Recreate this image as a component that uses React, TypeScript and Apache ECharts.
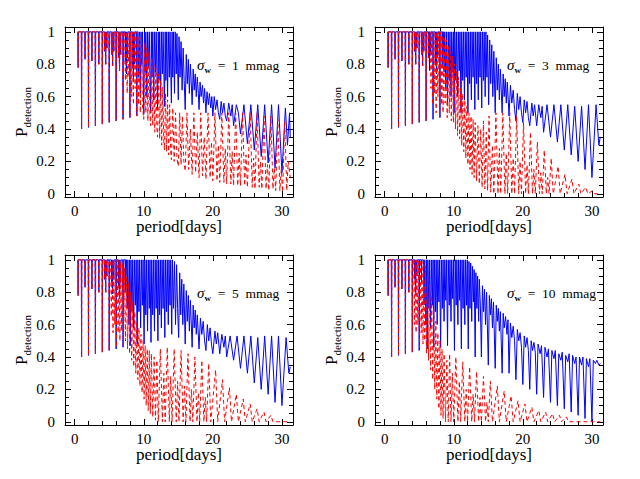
import React, { useEffect, useRef } from 'react';
import * as echarts from 'echarts';

const FONT = "'Liberation Serif', 'Times New Roman', serif";
const X_MIN = -1.4, X_MAX = 31.6, Y_MIN = -0.02, Y_MAX = 1.03;
const xMajor = [0, 10, 20, 30];
const xMinor = [2, 4, 6, 8, 12, 14, 16, 18, 22, 24, 26, 28];
const yMajor = [0, 0.2, 0.4, 0.6, 0.8, 1];
const yMinor = [0.05, 0.1, 0.15, 0.25, 0.3, 0.35, 0.45, 0.5, 0.55, 0.65, 0.7, 0.75, 0.85, 0.9, 0.95];
const sigmaLabels = ['1', '3', '5', '10'];

// short-period aliasing dips: [period, lowest P]
const lowPeriodSpikes: [number, number][] = [
  [0.5, 0.78], [1, 0.4], [1.5, 0.83], [2, 0.41], [2.5, 0.82], [3, 0.42], [3.5, 0.8], [4, 0.43],
  [4.33, 0.88], [4.5, 0.8], [4.67, 0.9], [5, 0.44], [5.33, 0.86], [5.5, 0.79], [5.67, 0.88], [6, 0.45],
  [6.33, 0.84], [6.5, 0.76], [6.67, 0.86], [7, 0.46], [7.33, 0.8], [7.5, 0.74], [7.67, 0.84], [8, 0.47],
  [8.33, 0.78], [8.5, 0.7], [8.67, 0.8], [9, 0.48],
];
const blueCut = [9.05, 8.4, 7.4, 5.5];
const redCut = [7.2, 6.5, 5.1, 4.1];

const blue1: [number, number][] = [
  [9.15,1],[9.25,0.72],[9.35,1],[9.5,0.62],[9.6,1],[9.7,0.8],[9.8,1],[10,0.49],[10.1,1],[10.2,0.75],[10.3,1],[10.45,0.6],[10.55,1],[10.7,0.78],[10.8,1],[11,0.5],[11.1,1],[11.2,0.72],[11.3,1],[11.45,0.58],[11.55,1],[11.7,0.75],[11.8,1],[12,0.52],[12.1,1],[12.2,0.7],[12.3,1],[12.45,0.6],[12.55,1],[12.7,0.74],[12.8,1],[13,0.54],[13.1,1],[13.2,0.7],[13.3,1],[13.45,0.6],[13.55,1],[13.7,0.72],[13.8,1],[14,0.56],[14.1,1],[14.2,0.72],[14.3,1],[14.45,0.62],[14.55,1],[14.7,0.74],[14.8,0.99],[15,0.58],[15.1,0.97],[15.25,0.72],[15.4,0.94],[15.55,0.64],[15.7,0.9],[15.85,0.7],[16,0.52],[16.15,0.86],[16.3,0.68],[16.45,0.83],[16.6,0.62],[16.75,0.8],[16.9,0.66],[17,0.55],[17.15,0.77],[17.3,0.64],[17.45,0.74],[17.6,0.6],[17.75,0.72],[17.9,0.62],[18,0.52],[18.15,0.69],[18.3,0.6],[18.5,0.67],[18.65,0.56],[18.8,0.65],[19,0.5],[19.15,0.63],[19.35,0.55],[19.5,0.62],[19.7,0.53],[19.85,0.6],[20,0.48],[20.2,0.6],[20.4,0.52],[20.6,0.58],[20.8,0.5],[21,0.46],[21.2,0.57],[21.4,0.5],[21.6,0.56],[21.8,0.48],[22,0.45],[22.3,0.56],[22.6,0.48],[22.8,0.55],[23,0.42],[23.4,0.55],[23.7,0.5],[24,0.37],[24.5,0.55],[25,0.31],[25.5,0.55],[26,0.27],[26.5,0.55],[27,0.23],[27.5,0.55],[28,0.19],[28.5,0.55],[29,0.16],[29.5,0.55],[30,0.13],[30.5,0.53],[30.8,0.3],[31.1,0.5],[31.2,0.35],
];
const red1: [number, number][] = [
  [7.25,1],[7.35,0.7],[7.45,1],[7.6,0.62],[7.7,1],[7.85,0.72],[7.95,1],[8,0.47],[8.1,1],[8.25,0.6],[8.35,1],[8.5,0.55],[8.6,1],[8.75,0.65],[8.85,1],[9,0.48],[9.1,1],[9.25,0.55],[9.35,0.98],[9.5,0.5],[9.65,0.96],[9.8,0.55],[10,0.46],[10.15,0.93],[10.3,0.5],[10.45,0.9],[10.6,0.45],[10.75,0.88],[10.9,0.48],[11,0.42],[11.15,0.84],[11.3,0.42],[11.45,0.8],[11.6,0.38],[11.75,0.78],[11.9,0.4],[12,0.35],[12.15,0.74],[12.3,0.34],[12.45,0.7],[12.6,0.3],[12.75,0.66],[12.9,0.32],[13,0.27],[13.15,0.62],[13.3,0.26],[13.45,0.58],[13.6,0.24],[13.75,0.55],[13.9,0.26],[14,0.21],[14.2,0.53],[14.4,0.2],[14.6,0.5],[14.8,0.22],[15,0.17],[15.2,0.5],[15.4,0.18],[15.6,0.48],[15.8,0.2],[16,0.14],[16.25,0.5],[16.5,0.15],[16.75,0.4],[17,0.12],[17.25,0.5],[17.5,0.13],[17.75,0.38],[18,0.1],[18.25,0.5],[18.5,0.11],[18.75,0.35],[19,0.09],[19.3,0.5],[19.6,0.1],[19.8,0.32],[20,0.08],[20.3,0.5],[20.6,0.08],[20.8,0.3],[21,0.07],[21.3,0.5],[21.6,0.07],[21.8,0.28],[22,0.06],[22.3,0.5],[22.6,0.06],[22.8,0.26],[23,0.05],[23.3,0.5],[23.6,0.05],[23.8,0.25],[24,0.05],[24.3,0.5],[24.6,0.05],[24.8,0.24],[25,0.04],[25.4,0.5],[25.7,0.04],[25.9,0.22],[26.1,0.03],[26.4,0.5],[26.7,0.04],[26.9,0.2],[27.1,0.03],[27.4,0.48],[27.7,0.03],[27.9,0.18],[28.1,0.02],[28.4,0.48],[28.7,0.03],[28.9,0.16],[29.1,0.02],[29.4,0.46],[29.7,0.02],[29.9,0.15],[30.1,0.01],[30.4,0.45],[30.7,0.02],[30.9,0.2],[31.2,0.1],
];

const blue2: [number, number][] = [
  [8.5,1],[8.6,0.75],[8.7,1],[8.85,0.65],[8.95,1],[9.1,0.55],[9.2,1],[9.35,0.7],[9.45,1],[9.6,0.6],[9.7,1],[9.85,0.75],[9.95,1],[10.05,0.5],[10.15,1],[10.3,0.7],[10.4,1],[10.55,0.6],[10.65,1],[10.8,0.76],[10.9,1],[11.05,0.5],[11.15,1],[11.3,0.7],[11.4,1],[11.55,0.58],[11.65,1],[11.8,0.72],[11.9,1],[12.05,0.5],[12.15,1],[12.3,0.68],[12.4,1],[12.55,0.58],[12.65,1],[12.8,0.72],[12.9,1],[13.05,0.52],[13.15,1],[13.3,0.68],[13.4,1],[13.55,0.58],[13.65,1],[13.8,0.72],[13.9,1],[14.05,0.53],[14.15,1],[14.3,0.7],[14.4,1],[14.55,0.6],[14.65,1],[14.8,0.72],[14.9,0.98],[15.05,0.55],[15.2,0.95],[15.35,0.68],[15.5,0.92],[15.65,0.6],[15.8,0.88],[16,0.5],[16.15,0.84],[16.3,0.64],[16.45,0.8],[16.6,0.58],[16.75,0.77],[17,0.5],[17.15,0.74],[17.3,0.6],[17.45,0.71],[17.6,0.56],[17.75,0.69],[18,0.48],[18.2,0.67],[18.4,0.56],[18.6,0.64],[18.8,0.52],[19,0.45],[19.2,0.62],[19.4,0.52],[19.6,0.6],[19.8,0.5],[20,0.44],[20.2,0.58],[20.4,0.5],[20.6,0.57],[20.8,0.47],[21,0.42],[21.3,0.56],[21.5,0.48],[21.7,0.55],[22,0.42],[22.3,0.55],[22.6,0.47],[22.8,0.54],[23,0.38],[23.5,0.55],[24,0.35],[24.5,0.55],[25,0.32],[25.5,0.55],[26,0.27],[26.5,0.55],[27,0.24],[27.5,0.54],[28,0.2],[28.5,0.54],[29,0.15],[29.5,0.55],[30,0.1],[30.6,0.55],[31,0.3],[31.2,0.35],
];
const red2: [number, number][] = [
  [6.6,1],[6.7,0.65],[6.8,1],[6.95,0.55],[7.05,1],[7.2,0.62],[7.3,1],[7.45,0.5],[7.55,1],[7.7,0.6],[7.8,1],[7.95,0.48],[8.05,1],[8.2,0.55],[8.3,0.98],[8.45,0.5],[8.6,0.97],[8.75,0.56],[8.9,0.95],[9.05,0.47],[9.2,0.92],[9.35,0.5],[9.5,0.88],[9.65,0.45],[9.8,0.85],[9.95,0.44],[10.1,0.8],[10.25,0.4],[10.4,0.76],[10.55,0.36],[10.7,0.72],[10.85,0.34],[11,0.65],[11.15,0.3],[11.3,0.62],[11.45,0.26],[11.6,0.58],[11.75,0.22],[11.9,0.54],[12.05,0.18],[12.2,0.5],[12.35,0.15],[12.5,0.48],[12.65,0.12],[12.8,0.46],[12.95,0.1],[13.1,0.44],[13.3,0.08],[13.5,0.42],[13.7,0.06],[13.9,0.4],[14.1,0.04],[14.3,0.45],[14.5,0.03],[14.7,0.38],[14.9,0.02],[15.1,0.48],[15.35,0.01],[15.6,0.3],[15.8,0],[16.1,0.5],[16.4,0],[16.6,0.28],[16.8,0],[17.1,0.5],[17.4,0],[17.6,0.25],[17.8,0],[18.1,0.5],[18.4,0],[18.6,0.22],[18.8,0],[19.1,0.48],[19.4,0],[19.6,0.2],[19.8,0],[20.1,0.44],[20.4,0],[20.6,0.18],[20.8,0],[21.1,0.38],[21.4,0],[21.6,0.15],[21.8,0],[22.1,0.32],[22.4,0],[22.6,0.13],[22.8,0],[23.1,0.27],[23.4,0],[23.6,0.1],[23.8,0],[24.1,0.22],[24.4,0],[25.1,0.17],[25.4,0],[26.1,0.12],[26.4,0],[27.1,0.09],[27.4,0],[28.1,0.06],[28.4,0],[29.1,0.04],[29.4,0],[30.1,0.02],[30.4,0],[31.2,0],
];

const blue3: [number, number][] = [
  [7.5,1],[7.6,0.7],[7.7,1],[7.85,0.6],[7.95,1],[8.05,0.47],[8.15,1],[8.3,0.68],[8.4,1],[8.55,0.58],[8.65,1],[8.8,0.72],[8.9,1],[9.05,0.48],[9.15,1],[9.3,0.68],[9.4,1],[9.55,0.58],[9.65,1],[9.8,0.72],[9.9,1],[10.05,0.48],[10.15,1],[10.3,0.66],[10.4,1],[10.55,0.56],[10.65,1],[10.8,0.7],[10.9,1],[11.05,0.49],[11.15,1],[11.3,0.66],[11.4,1],[11.55,0.56],[11.65,1],[11.8,0.7],[11.9,1],[12.05,0.5],[12.15,1],[12.3,0.66],[12.4,1],[12.55,0.58],[12.65,1],[12.8,0.7],[12.9,1],[13.05,0.52],[13.15,1],[13.3,0.68],[13.4,1],[13.55,0.6],[13.65,1],[13.8,0.72],[13.9,1],[14.05,0.54],[14.15,1],[14.3,0.7],[14.45,0.99],[14.6,0.6],[14.75,0.97],[14.9,0.7],[15.05,0.52],[15.2,0.92],[15.35,0.66],[15.5,0.88],[15.65,0.6],[15.8,0.85],[16,0.48],[16.15,0.81],[16.3,0.62],[16.45,0.78],[16.6,0.56],[16.75,0.75],[17,0.46],[17.15,0.72],[17.3,0.58],[17.45,0.69],[17.6,0.54],[17.75,0.66],[18,0.45],[18.2,0.64],[18.4,0.54],[18.6,0.62],[18.8,0.5],[19,0.44],[19.2,0.6],[19.4,0.5],[19.6,0.58],[19.8,0.48],[20,0.42],[20.3,0.56],[20.5,0.48],[20.7,0.55],[21,0.42],[21.3,0.54],[21.6,0.46],[21.8,0.53],[22,0.4],[22.5,0.53],[23,0.38],[23.5,0.53],[24,0.33],[24.5,0.53],[25,0.3],[25.5,0.53],[26,0.24],[26.5,0.52],[27,0.2],[27.5,0.53],[28,0.17],[28.5,0.53],[29,0.12],[29.5,0.53],[30,0.1],[30.6,0.52],[31,0.3],[31.2,0.34],
];
const red3: [number, number][] = [
  [5.2,1],[5.3,0.65],[5.4,1],[5.55,0.55],[5.65,1],[5.8,0.6],[5.9,1],[6.05,0.46],[6.15,1],[6.3,0.55],[6.4,1],[6.55,0.5],[6.65,0.99],[6.8,0.56],[6.9,0.98],[7.05,0.46],[7.2,0.95],[7.35,0.5],[7.5,0.9],[7.65,0.45],[7.8,0.86],[7.95,0.42],[8.1,0.8],[8.25,0.38],[8.4,0.74],[8.55,0.34],[8.7,0.68],[8.85,0.3],[9,0.62],[9.15,0.26],[9.3,0.58],[9.45,0.22],[9.6,0.54],[9.75,0.18],[9.9,0.5],[10.05,0.14],[10.2,0.47],[10.35,0.1],[10.5,0.45],[10.65,0.07],[10.8,0.44],[10.95,0.05],[11.1,0.42],[11.3,0.03],[11.5,0.4],[11.7,0.01],[11.9,0.38],[12.1,0],[12.4,0.45],[12.7,0],[12.9,0.3],[13.1,0],[13.4,0.46],[13.7,0],[13.9,0.28],[14.1,0],[14.4,0.45],[14.7,0],[14.9,0.25],[15.1,0],[15.4,0.44],[15.7,0],[15.9,0.22],[16.1,0],[16.4,0.42],[16.7,0],[16.9,0.2],[17.1,0],[17.4,0.4],[17.7,0],[17.9,0.18],[18.1,0],[18.4,0.38],[18.7,0],[18.9,0.15],[19.1,0],[19.4,0.36],[19.7,0],[20.4,0.32],[20.7,0],[21.4,0.26],[21.7,0],[22.4,0.21],[22.7,0],[23.4,0.17],[23.7,0],[24.4,0.14],[24.7,0],[25.4,0.11],[25.7,0],[26.4,0.08],[26.7,0],[27.4,0.06],[27.7,0],[28.4,0.04],[28.7,0],[31.2,0],
];

const blue4: [number, number][] = [
  [5.6,1],[5.7,0.72],[5.8,1],[5.95,0.6],[6.05,1],[6.15,0.45],[6.25,1],[6.4,0.7],[6.5,1],[6.65,0.58],[6.75,1],[6.9,0.72],[7,1],[7.1,0.46],[7.2,1],[7.35,0.68],[7.45,1],[7.6,0.6],[7.7,1],[7.85,0.74],[7.95,1],[8.1,0.46],[8.2,1],[8.35,0.7],[8.45,1],[8.6,0.62],[8.7,1],[8.85,0.75],[8.95,1],[9.1,0.47],[9.2,1],[9.35,0.72],[9.45,1],[9.6,0.62],[9.7,1],[9.85,0.76],[9.95,1],[10.1,0.44],[10.2,1],[10.35,0.72],[10.45,1],[10.6,0.6],[10.7,1],[10.85,0.75],[10.95,1],[11.1,0.45],[11.2,1],[11.35,0.7],[11.45,1],[11.6,0.6],[11.7,1],[11.85,0.72],[11.95,1],[12.1,0.45],[12.2,0.99],[12.35,0.7],[12.45,0.98],[12.6,0.62],[12.7,0.96],[12.85,0.74],[12.95,0.94],[13.1,0.4],[13.2,0.92],[13.35,0.7],[13.45,0.9],[13.6,0.62],[13.7,0.88],[13.85,0.72],[14,0.4],[14.15,0.84],[14.3,0.68],[14.45,0.82],[14.6,0.6],[14.75,0.8],[15,0.35],[15.15,0.78],[15.3,0.66],[15.45,0.76],[15.6,0.58],[15.75,0.74],[16,0.33],[16.15,0.72],[16.3,0.62],[16.45,0.7],[16.6,0.56],[16.75,0.68],[17,0.3],[17.15,0.67],[17.3,0.58],[17.5,0.65],[17.7,0.54],[17.85,0.63],[18,0.3],[18.2,0.61],[18.4,0.52],[18.6,0.59],[18.8,0.5],[19,0.26],[19.2,0.57],[19.4,0.5],[19.6,0.55],[19.8,0.46],[20,0.23],[20.2,0.53],[20.4,0.46],[20.6,0.52],[20.8,0.44],[21,0.2],[21.2,0.5],[21.4,0.44],[21.6,0.49],[21.8,0.43],[22,0.17],[22.2,0.48],[22.5,0.42],[22.7,0.47],[23,0.15],[23.2,0.46],[23.5,0.4],[23.7,0.45],[24,0.12],[24.2,0.44],[24.5,0.39],[24.7,0.44],[25,0.1],[25.2,0.42],[25.5,0.38],[25.7,0.43],[26,0.08],[26.2,0.41],[26.5,0.37],[26.7,0.42],[27,0.06],[27.2,0.41],[27.5,0.36],[27.7,0.4],[28,0.04],[28.2,0.4],[28.5,0.35],[28.7,0.4],[29,0.02],[29.2,0.39],[29.5,0.34],[29.7,0.39],[30,0],[30.2,0.38],[30.5,0.36],[30.7,0.38],[31,0.35],[31.2,0.36],
];
const red4: [number, number][] = [
  [4.2,1],[4.3,0.6],[4.4,1],[4.55,0.55],[4.65,1],[4.8,0.6],[4.9,1],[5.05,0.46],[5.15,1],[5.3,0.55],[5.4,0.99],[5.55,0.48],[5.65,0.98],[5.8,0.5],[5.9,0.96],[6.05,0.42],[6.2,0.9],[6.35,0.38],[6.5,0.85],[6.65,0.32],[6.8,0.78],[6.95,0.26],[7.1,0.7],[7.25,0.2],[7.4,0.62],[7.55,0.14],[7.7,0.55],[7.85,0.08],[8,0.5],[8.15,0.04],[8.3,0.45],[8.45,0.02],[8.6,0.42],[8.8,0],[9,0.38],[9.2,0],[9.4,0.42],[9.6,0],[9.8,0.3],[10,0],[10.3,0.4],[10.6,0],[10.8,0.25],[11,0],[11.3,0.37],[11.6,0],[11.8,0.2],[12,0],[12.3,0.34],[12.6,0],[12.8,0.17],[13,0],[13.3,0.31],[13.6,0],[13.8,0.15],[14,0],[14.3,0.28],[14.6,0],[14.8,0.12],[15,0],[15.3,0.25],[15.6,0],[16.3,0.22],[16.6,0],[17.3,0.19],[17.6,0],[18.3,0.16],[18.6,0],[19.3,0.13],[19.6,0],[20.3,0.11],[20.6,0],[21.3,0.09],[21.6,0],[22.3,0.07],[22.6,0],[23.3,0.06],[23.6,0],[24.3,0.05],[24.6,0],[25.3,0.04],[25.6,0],[26.3,0.03],[26.6,0],[31.2,0],
];

const blueTails = [blue1, blue2, blue3, blue4];
const redTails = [red1, red2, red3, red4];

function spikeLine(cut: number): number[][] {
  const pts: number[][] = [];
  for (const [x, d] of lowPeriodSpikes) {
    if (x < cut) pts.push([x - 0.04, 1], [x, d], [x + 0.04, 1]);
  }
  return pts;
}

const PANEL_LEFT = [65, 375, 65, 375];
const PANEL_TOP = [27, 27, 255, 255];
const PW = 228, PH = 170;

function buildOption() {
  const grid: any[] = [];
  const xAxis: any[] = [];
  const yAxis: any[] = [];
  const series: any[] = [];
  const graphic: any[] = [];
  const txt = { color: '#000', fontFamily: FONT };
  for (let i = 0; i < 4; i++) {
    const g = { left: PANEL_LEFT[i], top: PANEL_TOP[i], width: PW, height: PH };
    grid.push({ ...g }); // main
    grid.push({ ...g }); // minor ticks
    const gm = i * 2, gn = i * 2 + 1;
    const xBase = { type: 'value', min: X_MIN, max: X_MAX, splitLine: { show: false } };
    const yBase = { type: 'value', min: Y_MIN, max: Y_MAX, splitLine: { show: false } };
    const line = { show: true, onZero: false, lineStyle: { color: '#000', width: 1 } };
    const noLine = { show: false, onZero: false };
    const tick = (len: number, vals: number[]) => ({
      show: true, inside: true, length: len, customValues: vals, lineStyle: { color: '#000', width: 1 },
    });
    xAxis.push({
      ...xBase, gridIndex: gm, position: 'bottom', axisLine: line,
      axisTick: tick(6, xMajor),
      axisLabel: { show: true, customValues: xMajor, margin: 6, fontSize: 15, ...txt },
      name: 'period[days]', nameLocation: 'middle', nameGap: 21, nameMoveOverlap: false,
      nameTextStyle: { fontSize: 17, ...txt },
    });
    xAxis.push({
      ...xBase, gridIndex: gm, position: 'top', axisLine: line,
      axisTick: tick(6, xMajor), axisLabel: { show: false },
    });
    xAxis.push({
      ...xBase, gridIndex: gn, position: 'bottom', axisLine: noLine,
      axisTick: tick(4, xMinor), axisLabel: { show: false },
    });
    xAxis.push({
      ...xBase, gridIndex: gn, position: 'top', axisLine: noLine,
      axisTick: tick(4, xMinor), axisLabel: { show: false },
    });
    yAxis.push({
      ...yBase, gridIndex: gm, position: 'left', axisLine: line,
      axisTick: tick(6, yMajor),
      axisLabel: { show: true, customValues: yMajor, margin: 10, fontSize: 15, ...txt, formatter: (v: number) => String(v) },
      name: '{p|P}{d|detection}', nameLocation: 'middle', nameGap: 33, nameRotate: 90, nameMoveOverlap: false,
      nameTextStyle: {
        ...txt,
        rich: {
          p: { fontSize: 17, lineHeight: 22, fontFamily: FONT, color: '#000' },
          d: { fontSize: 11, verticalAlign: 'bottom', fontFamily: FONT, color: '#000' },
        },
      },
    });
    yAxis.push({
      ...yBase, gridIndex: gm, position: 'right', axisLine: line,
      axisTick: tick(6, yMajor), axisLabel: { show: false },
    });
    yAxis.push({
      ...yBase, gridIndex: gn, position: 'left', axisLine: noLine,
      axisTick: tick(4, yMinor), axisLabel: { show: false },
    });
    yAxis.push({
      ...yBase, gridIndex: gn, position: 'right', axisLine: noLine,
      axisTick: tick(4, yMinor), axisLabel: { show: false },
    });
    const xi = i * 4, yi = i * 4;
    series.push({
      type: 'line', xAxisIndex: xi, yAxisIndex: yi, showSymbol: false, symbol: 'none',
      data: spikeLine(blueCut[i]).concat(blueTails[i]),
      lineStyle: { color: '#0000ff', width: 1 }, z: 2, silent: true,
    });
    series.push({
      type: 'line', xAxisIndex: xi, yAxisIndex: yi, showSymbol: false, symbol: 'none',
      data: spikeLine(redCut[i]).concat(redTails[i]),
      lineStyle: { color: '#ff0000', width: 1, type: [4, 3] }, z: 3, silent: true,
    });
    graphic.push({
      type: 'text', x: PANEL_LEFT[i] + 132, y: PANEL_TOP[i] + 38,
      style: {
        text: `{s|σ}{w|w}{t|  =  ${sigmaLabels[i]}  mmag}`,
        verticalAlign: 'middle', align: 'left', fill: '#000',
        rich: {
          s: { fontSize: 15, fontStyle: 'italic', fontFamily: FONT, lineHeight: 18, fill: '#000' },
          w: { fontSize: 9, fontWeight: 'bold', fontFamily: FONT, verticalAlign: 'bottom', fill: '#000' },
          t: { fontSize: 13.5, fontFamily: FONT, lineHeight: 18, fill: '#000' },
        },
      },
    });
  }
  return { animation: false, backgroundColor: '#fff', grid, xAxis, yAxis, series, graphic };
}

export default function App() {
  const ref = useRef<HTMLDivElement>(null);
  useEffect(() => {
    if (!ref.current) return;
    const chart = echarts.init(ref.current, undefined, { renderer: 'svg' });
    chart.setOption(buildOption() as any);
    return () => chart.dispose();
  }, []);
  return <div ref={ref} style={{ width: 640, height: 479, position: 'absolute', left: 0, top: 0 }} />;
}
